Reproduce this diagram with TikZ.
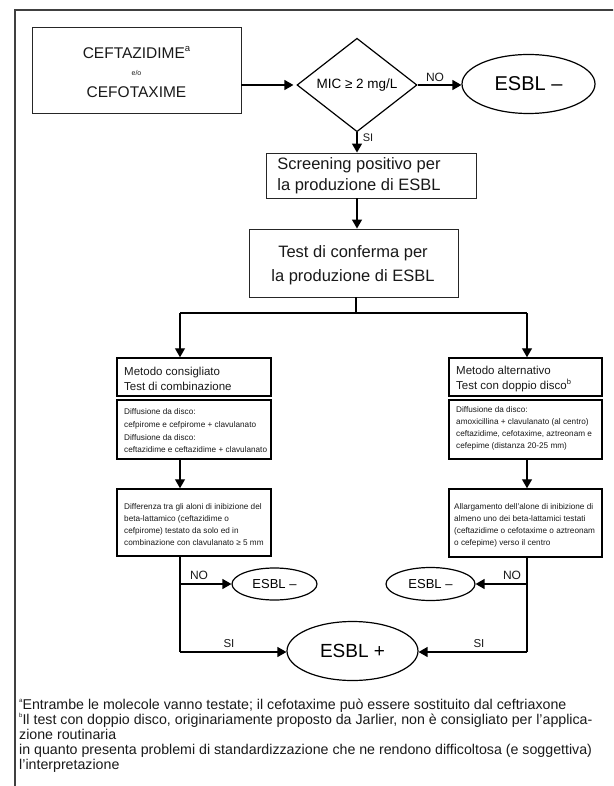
\documentclass[tikz,border=0pt]{standalone}
\usepackage{fontspec}
\setmainfont{Liberation Sans}
\usetikzlibrary{arrows.meta,shapes.geometric}
\newcommand{\fsz}[2]{\fontsize{#1}{#2}\selectfont}
\newcommand{\supa}[2][6]{\raisebox{0.45em}{\fontsize{#1}{#1}\selectfont #2}}
\begin{document}
\begin{tikzpicture}[x=1pt,y=-1pt,
  topbox/.style={draw=black!85, line width=0.9pt, rectangle, inner sep=0pt},
  mbox/.style={draw=black, line width=1.5pt, rectangle, inner sep=0pt},
  oval/.style={draw=black, line width=1.2pt, ellipse, inner sep=0pt},
  txt/.style={inner sep=0pt, text=black!90},
  arr/.style={-{Triangle[length=9pt,width=10pt]}, line width=1.3pt},
  ln/.style={line width=1.3pt}]
\useasboundingbox (0,0) rectangle (613,786);
\clip (0,0) rectangle (613,786);
% frame
\draw[line width=1.5pt, black!75] (15,800) -- (15,10) -- (640,10);

% first box
\node[topbox, minimum width=209pt, minimum height=86pt] (b1) at (136.5,70) {};
\node[txt, font=\fsz{15.5}{18}] (b1a) at (136.5,53) {CEFTAZIDIME\supa[9.5]{a}};
\node[txt, font=\fsz{7}{8}] (b1b) at (136.5,73) {e/o};
\node[txt, font=\fsz{15.5}{18}] (b1c) at (136.5,92) {CEFOTAXIME};

% diamond
\node[draw=black, line width=1.2pt, diamond, minimum width=120pt, minimum height=80pt, inner sep=0pt, font=\fsz{13.5}{16}] (dia) at (357,85) {MIC ≥ 2 mg/L};
\draw[arr, shorten >=3pt] (b1.east |- dia.west) -- (dia.west);

% ESBL - top
\node[oval, minimum width=133pt, minimum height=59pt, font=\fsz{20}{24}] (e1) at (528.5,84) {ESBL –};
\draw[arr] (dia.east) -- (dia.east -| e1.west);
\node[txt, font=\fsz{12}{14}] (no1) at (435,77) {NO};

% screening
\node[topbox, minimum width=210pt, minimum height=45pt] (scr) at (371,175.5) {};
\node[txt, align=left, font=\fsz{16.5}{21}] (scrt) at (359,176) {Screening positivo per\\la produzione di ESBL};
\draw[arr] (dia.south) -- (dia.south |- scr.north);
\node[txt, font=\fsz{11}{13}] (si1) at (368,138) {SI};

% test box
\node[topbox, minimum width=209pt, minimum height=68pt] (tst) at (353.5,263) {};
\node[txt, align=center, font=\fsz{16.5}{24}] (tstt) at (353,265) {Test di conferma per\\la produzione di ESBL};
\draw[arr] (dia.south |- scr.south) -- (dia.south |- tst.north);

% fork
\coordinate (fk) at (356,313);
\coordinate (fl) at (180,313);
\coordinate (fr) at (527,313);
\draw[ln] (fk |- tst.south) -- (fk);
\draw[ln] (fl) -- (fr);

% left column
\node[mbox, minimum width=154pt, minimum height=38pt] (lh) at (194,377) {};
\node[mbox, minimum width=154pt, minimum height=59pt] (ld) at (194,429.5) {};
\node[mbox, minimum width=154pt, minimum height=67pt] (lr) at (194,522.5) {};
\node[txt, anchor=west, align=left, font=\fsz{11.5}{15.5}] (lht) at (124,379) {Metodo consigliato\\Test di combinazione};
\node[txt, anchor=west, align=left, font=\fsz{8.2}{12.7}] (ldt) at (124,431) {Diffusione da disco:\\cefpirome e cefpirome + clavulanato\\Diffusione da disco:\\ceftazidime e ceftazidime + clavulanato};
\node[txt, anchor=west, align=left, font=\fsz{8.2}{12}] (lrt) at (124,524.5) {Differenza tra gli aloni di inibizione del\\beta-lattamico (ceftazidime o\\cefpirome) testato da solo ed in\\combinazione con clavulanato ≥ 5 mm};
\draw[arr] (fl) -- (fl |- lh.north);
\draw[arr] (fl |- ld.south) -- (fl |- lr.north);

% right column
\node[mbox, minimum width=153pt, minimum height=38pt] (rh) at (525.5,377) {};
\node[mbox, minimum width=153pt, minimum height=59pt] (rd) at (525.5,429.5) {};
\node[mbox, minimum width=153pt, minimum height=68pt] (rr) at (525.5,523) {};
\node[txt, anchor=west, align=left, font=\fsz{11.5}{15.5}] (rht) at (456,379) {Metodo alternativo\\Test con doppio disco\supa[7.5]{b}};
\node[txt, anchor=west, align=left, font=\fsz{8.2}{12}] (rdt) at (456,428) {Diffusione da disco:\\amoxicillina + clavulanato (al centro)\\ceftazidime, cefotaxime, aztreonam e\\cefepime (distanza 20-25 mm)};
\node[txt, anchor=west, align=left, font=\fsz{8.2}{12}] (rrt) at (454,525.5) {Allargamento dell’alone di inibizione di\\almeno uno dei beta-lattamici testati\\(ceftazidime o cefotaxime o aztreonam\\o cefepime) verso il centro};
\draw[arr] (fr) -- (fr |- rh.north);
\draw[arr] (fr |- rd.south) -- (fr |- rr.north);

% outcomes
\node[oval, minimum width=85pt, minimum height=32pt, font=\fsz{13}{15}] (en1) at (274.5,584) {ESBL –};
\node[oval, minimum width=89pt, minimum height=33pt, font=\fsz{13}{15}] (en2) at (430.5,584) {ESBL –};
\node[oval, minimum width=131pt, minimum height=59pt, font=\fsz{19}{22}] (ep) at (352.5,651) {ESBL +};
\coordinate (lb) at (180,652);
\coordinate (rb) at (527,652);
\draw[ln] (fl |- lr.south) -- (lb);
\draw[ln] (fr |- rr.south) -- (rb);
\draw[arr] (fl |- en1) -- (en1.west);
\draw[arr] (fr |- en2) -- (en2.east);
\draw[arr] (lb) -- (lb -| ep.west);
\draw[arr] (rb) -- (rb -| ep.east);
\node[txt, font=\fsz{12}{14}] (no2) at (199,575) {NO};
\node[txt, font=\fsz{12}{14}] (no3) at (512,575) {NO};
\node[txt, font=\fsz{11.5}{14}] (si2) at (229,644) {SI};
\node[txt, font=\fsz{11.5}{14}] (si3) at (479,644) {SI};

% footnotes
\begin{scope}[every node/.style={txt, anchor=base west, font=\fsz{14.2}{15}}]
\node (fn1) at (19,709) {\supa{a}Entrambe le molecole vanno testate; il cefotaxime può essere sostituito dal ceftriaxone};
\node (fn2) at (19,724) {\supa{b}Il test con doppio disco, originariamente proposto da Jarlier, non è consigliato per l’applica-};
\node (fn3) at (19,739) {zione routinaria};
\node (fn4) at (19,754) {in quanto presenta problemi di standardizzazione che ne rendono difficoltosa (e soggettiva)};
\node (fn5) at (19,769) {l’interpretazione};
\end{scope}
\end{tikzpicture}
\end{document}
